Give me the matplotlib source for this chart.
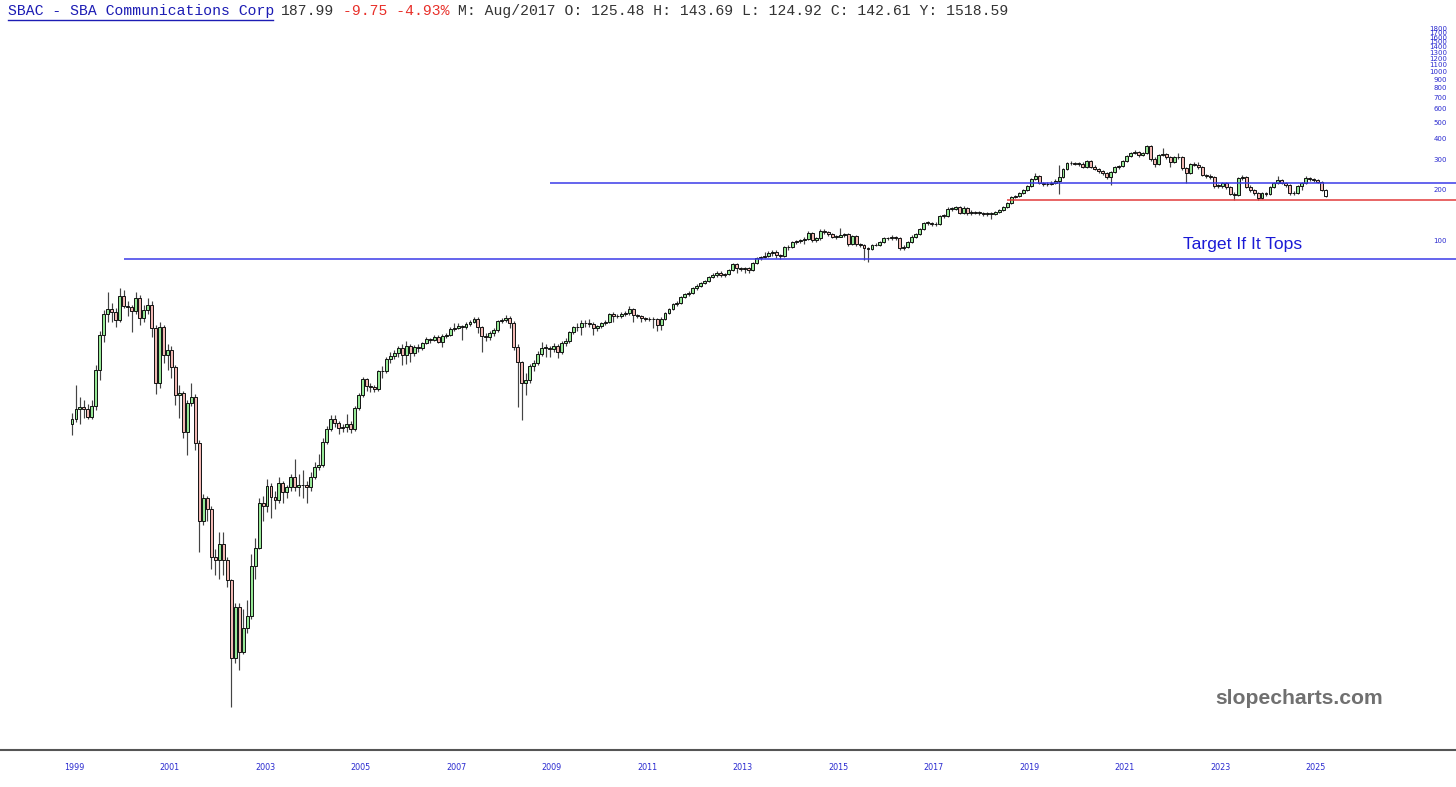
import numpy as np
import matplotlib
matplotlib.use("Agg")
import matplotlib.pyplot as plt
from matplotlib.transforms import blended_transform_factory
from matplotlib.lines import Line2D

# monthly bars, first bar is Jun 1999
first_year, first_month = 1999, 6
first_open = 8.3

closes = [
    8.8, 10.2, 10.4, 10.2, 9.1, 10.5, 17.2,                                  # 1999
    27.8, 37.0, 39.6, 38.0, 34.1, 47.2, 41.3, 40.7, 38.6, 46.0, 35.0, 39.1,  # 2000
    41.8, 30.6, 14.4, 31.0, 21.2, 22.6, 18.0, 12.3, 12.6, 7.4, 11.0, 11.9,   # 2001
    6.4, 2.2, 3.0, 2.6, 1.35, 1.30, 1.6, 1.30, 0.99, 0.34, 0.68, 0.37,       # 2002
    0.51, 0.60, 1.2, 1.53, 2.8, 2.7, 3.55, 3.05, 2.93, 3.7, 3.25, 3.5,       # 2003
    4.0, 3.5, 3.6, 3.6, 3.5, 4.0, 4.6, 4.7, 6.5, 7.7, 8.8, 8.4,              # 2004
    7.8, 7.9, 8.3, 7.7, 10.3, 12.3, 15.2, 13.8, 13.7, 13.3, 17.0, 17.1,      # 2005
    20.0, 20.9, 21.7, 23.3, 21.2, 23.9, 21.7, 23.6, 23.3, 24.9, 26.3, 25.9,  # 2006
    27.0, 25.2, 27.4, 27.8, 30.2, 30.6, 31.4, 31.0, 32.2, 33.1, 34.6, 31.0,  # 2007
    27.4, 27.0, 28.5, 29.7, 33.6, 34.1, 35.0, 32.7, 23.6, 19.2, 14.4, 15.0,  # 2008
    18.2, 19.0, 21.4, 23.3, 23.4, 22.9, 23.9, 22.0, 24.9, 25.6, 28.9, 31.0,  # 2009
    30.9, 32.7, 32.8, 32.2, 30.6, 31.4, 32.7, 33.1, 37.0, 36.0, 36.1, 37.0,  # 2010
    37.5, 39.6, 36.5, 36.0, 35.0, 34.6, 34.5, 34.6, 31.9, 34.6, 37.5, 39.6,  # 2011
    42.4, 43.0, 46.6, 48.6, 49.2, 52.7, 54.2, 56.4, 58.0, 61.3, 63.0, 64.7,  # 2012
    63.0, 63.8, 67.4, 73.1, 69.2, 68.3, 69.2, 67.4, 74.1, 79.3, 80.4, 81.5,  # 2013
    84.9, 86.1, 82.6, 81.5, 92.2, 92.5, 98.6, 100, 101, 103, 112, 101,       # 2014
    104, 115, 113, 110, 106, 106, 109, 110, 96, 107, 96, 94.7,               # 2015
    91, 89.7, 94.7, 95, 98.6, 104, 104, 106, 104, 91, 92.2, 98.6,            # 2016
    106, 110, 118, 128, 128, 126, 126, 141, 141, 155, 155, 159,              # 2017
    147, 157, 147, 149, 147, 147, 145, 145, 145, 149, 152, 159,              # 2018
    168, 182, 185, 192, 200, 212, 233, 242, 220, 217, 217, 220,              # 2019
    226, 239, 267, 289, 289, 286, 286, 274, 297, 274, 267, 259,              # 2020
    253, 239, 256, 274, 278, 297, 318, 332, 337, 323, 332, 365,              # 2021
    306, 286, 323, 327, 314, 293, 314, 314, 270, 253, 286, 282,              # 2022
    274, 246, 242, 239, 212, 212, 220, 209, 190, 187, 236, 239,              # 2023
    209, 200, 192, 180, 192, 190, 209, 220, 229, 220, 214, 192,              # 2024
    192, 212, 220, 236, 233, 229, 224, 200, 185,                             # 2025
]

highs = [
    9.6, 14.0, 12.0, 11.5, 10.8, 11.5, 18.5,
    29.5, 39, 50, 43, 40, 52.6, 51, 44, 42, 50, 48, 42,
    46, 44, 32, 33, 32, 24.5, 24, 18.5, 14, 13, 11.5, 14.5,
    12.5, 6.6, 3.2, 3.1, 2.7, 1.5, 1.9, 1.9, 1.35, 1.0, 0.72, 0.72,
    0.66, 0.75, 1.4, 1.75, 3.0, 3.1, 3.9, 3.7, 3.3, 4.0, 3.8, 3.6,
    4.2, 5.1, 4.2, 4.4, 3.8, 4.3, 4.9, 5.5, 6.8, 8.0, 9.4, 9.3,
    8.6, 8.3, 9.5, 8.6, 10.6, 12.6, 15.6, 15.5, 14.5, 14.0, 17.3, 18.3,
    20.5, 22, 22.5, 24, 24.5, 25.6, 24.5, 24.2, 24.5, 25.4, 27.2, 26.8,
    27.6, 27.6, 28, 28.5, 30.8, 32.5, 32.5, 32, 33, 34, 35.5, 35.3,
    31.5, 28.5, 29.3, 30.5, 34.2, 35, 36.3, 35.8, 33.5, 24.5, 19.5, 16.5,
    18.8, 19.8, 22.3, 25.4, 24.5, 24, 24.8, 24.5, 25.6, 26.5, 29.5, 31.6,
    32.5, 34.1, 34, 34.5, 33, 32, 33.3, 34, 37.6, 38, 37, 38,
    38.5, 41, 40.3, 37, 36.5, 35.5, 35.5, 35.5, 35.2, 35.3, 38, 40.3,
    43, 44, 47.3, 49.5, 50.5, 53.5, 55.5, 57.5, 59, 62, 64.5, 66,
    66, 65, 68.5, 74.5, 74, 70.5, 70.5, 70.5, 75.5, 80.5, 81.5, 86,
    87, 88.5, 88, 84, 93.5, 95, 100, 102, 103, 105, 114, 113,
    106, 117, 118, 115, 112, 109, 119, 112, 111, 109, 108, 97,
    96, 92, 96, 97, 100, 106, 106, 108, 107, 105, 95, 100,
    108, 112, 120, 130, 132, 130, 129, 143, 144, 158, 158, 162,
    162, 160, 159, 152, 151, 150, 149, 148, 148, 151, 154, 161,
    170, 184, 188, 194, 203, 215, 236, 252, 246, 224, 222, 225,
    232, 282, 272, 294, 297, 293, 293, 292, 303, 300, 280, 272,
    263, 256, 260, 278, 283, 302, 323, 338, 345, 340, 338, 372,
    368, 312, 328, 355, 332, 318, 320, 330, 318, 274, 290, 292,
    292, 278, 250, 248, 242, 216, 224, 224, 212, 195, 240, 245,
    242, 214, 204, 194, 196, 196, 213, 224, 242, 234, 224, 216,
    198, 215, 224, 244, 240, 236, 234, 228, 203,
]

lows = [
    7.1, 8.5, 8.3, 9.0, 8.8, 8.9, 10.0,
    15.0, 25.2, 33, 33, 31, 33, 40, 36, 29, 37, 32, 33,
    37, 27, 12.5, 13.5, 19, 17.2, 15.5, 10.7, 9.0, 6.8, 5.4, 10.5,
    5.8, 1.45, 2.1, 2.2, 1.15, 1.06, 1.0, 1.06, 0.9, 0.175, 0.32, 0.29,
    0.36, 0.48, 0.58, 1.0, 1.5, 2.2, 2.5, 2.3, 2.6, 2.8, 2.8, 3.0,
    3.3, 3.3, 3.1, 3.0, 2.8, 3.3, 3.9, 4.4, 4.6, 6.3, 7.5, 7.9,
    7.2, 7.4, 7.4, 7.3, 7.5, 10.0, 12.0, 13.0, 12.8, 12.8, 13.0, 15.5,
    16.5, 19, 20, 20.5, 18.5, 18.8, 19.3, 21, 22, 22.8, 24.5, 25,
    25.5, 24.8, 23.6, 26.8, 27.4, 29.5, 30, 25.9, 30, 31.5, 32.5, 28.5,
    22, 25.5, 26, 27.5, 29, 32.5, 33, 30.5, 22.5, 10.4, 8.7, 12.3,
    14.5, 17, 18.5, 21, 20.6, 20.6, 22, 20.3, 21.5, 24, 25, 28,
    29.5, 27.8, 31, 31, 27.8, 29.5, 30.5, 32, 32.5, 33.2, 35, 35,
    36, 36.5, 33.2, 35, 33.1, 33.5, 33.5, 30.5, 29.5, 29.7, 34, 37,
    39, 41.5, 42.5, 46, 47.5, 48.5, 51.5, 53.5, 55.5, 57, 60, 61.5,
    61, 61.5, 62.5, 66.5, 65, 66, 65, 64.5, 66.5, 73, 77.5, 79,
    80, 82, 79, 78, 80.5, 89, 91, 96, 97, 96, 101, 99,
    99, 102, 110, 107, 104, 103, 105, 106, 94, 95, 94, 92,
    77.2, 75.6, 88, 93, 94, 97, 101, 102, 101, 89, 88, 91,
    97, 104, 108, 116, 125, 123, 122, 124, 137, 139, 150, 153,
    144, 144, 143, 143, 144, 142, 141, 141, 135, 143, 146, 150,
    157, 166, 179, 182, 189, 198, 210, 230, 216, 213, 212, 214,
    216, 191, 235, 262, 282, 280, 278, 270, 270, 269, 262, 254,
    247, 234, 214, 252, 268, 274, 292, 312, 325, 316, 318, 328,
    298, 274, 282, 318, 306, 275, 288, 306, 264, 220, 250, 276,
    268, 242, 236, 232, 207, 205, 207, 204, 186, 176, 184, 230,
    205, 196, 186, 175, 177, 185, 187, 206, 216, 216, 209, 188,
    187, 190, 200, 216, 226, 222, 219, 197, 183,
]

year_labels = list(range(1999, 2026, 2))
price_labels = [100, 200, 300, 400, 500, 600, 700, 800, 900, 1000,
                1100, 1200, 1300, 1400, 1500, 1600, 1700, 1800]

# drawn levels: price and the month the line starts
upper_level, upper_start = 221.3, (2009, 6)
red_level, red_start = 176.0, (2019, 1)
target_level, target_start = 77.9, (2000, 7)
target_text = "Target If It Tops"

header_name = "SBAC - SBA Communications Corp"
header_last = "187.99"
header_change = "-9.75 -4.93%"
header_rest = "M: Aug/2017 O: 125.48 H: 143.69 L: 124.92 C: 142.61 Y: 1518.59"


def month_index(year, month):
    return (year - first_year) * 12 + (month - first_month)


W, H = 1456, 787
fig = plt.figure(figsize=(W / 100, H / 100), dpi=100)
fig.patch.set_facecolor("white")
ax = fig.add_axes([0, 37 / H, 1, 750 / H])
ax.set_yscale("log")
ax.set_ylim(0.0973, 2667)
ax.set_xlim(-18.09, 347.74)
ax.tick_params(which="both", left=False, bottom=False, labelleft=False, labelbottom=False)
for s in ["top", "left", "right"]:
    ax.spines[s].set_visible(False)
ax.spines["bottom"].set_color("#555555")
ax.spines["bottom"].set_linewidth(1.5)

# candles
c = np.array(closes)
hi = np.array(highs)
lo = np.array(lows)
o = np.r_[first_open, c[:-1]]
x = np.arange(len(c))
body_lo = np.minimum(o, c)
body_hi = np.maximum(o, c)
hi = np.maximum(hi, body_hi)
lo = np.minimum(lo, body_lo)
face = np.where(c >= o, "#96e896", "#f2b8b4").astype(object)
face[-1] = "white"
height = np.maximum(body_hi - body_lo, body_lo * 0.006)

ax.vlines(x, lo, hi, colors="#444444", linewidth=0.85, zorder=1)
ax.bar(x, height, bottom=body_lo, width=0.74, color=list(face),
       edgecolor="#111111", linewidth=0.7, zorder=2)

# levels
xmax = ax.get_xlim()[1]
ax.hlines(upper_level, month_index(*upper_start), xmax, color="#3a3ae8", lw=1.1, zorder=3)
ax.hlines(red_level, month_index(*red_start), xmax, color="#e23a3a", lw=1.1, zorder=3)
ax.hlines(target_level, month_index(*target_start), xmax, color="#3a3ae8", lw=1.1, zorder=3)
ax.text(294.2, 94.7, target_text, ha="center", va="center", fontsize=12.6,
        family="Liberation Sans", color="#1a1ad6")

# price labels on the right
ty = blended_transform_factory(ax.transAxes, ax.transData)
for p in price_labels:
    ax.text(1447 / W, p, str(p), transform=ty, ha="right", va="center",
            fontsize=5, color="#2a2ad0")

# year labels under the axis
tx = blended_transform_factory(ax.transData, fig.transFigure)
for yr in year_labels:
    ax.text(month_index(yr, 7) - 0.5, 1 - 768 / H, str(yr), transform=tx,
            ha="center", va="center", fontsize=5.8, color="#2a2ad0")

# header line
cw = 8.82
hy = 1 - 11 / H
parts = [(header_name, 0, "#1c1cb4"), (header_last, 31, "#333333"),
         (header_change, 38, "#e8302a"), (header_rest, 51, "#333333")]
for txt, pos, col in parts:
    fig.text((8 + cw * pos) / W, hy, txt, ha="left", va="center",
             family="Liberation Mono", fontsize=10.6, color=col)
fig.add_artist(Line2D([8 / W, (8 + cw * len(header_name)) / W], [1 - 19.5 / H] * 2,
                      color="#1c1cb4", lw=1, transform=fig.transFigure))

fig.text(1299 / W, 1 - 698 / H, "slopecharts.com", ha="center", va="center",
         fontsize=15.2, fontweight="bold", family="Liberation Sans", color="#707070")

fig.savefig("out.png", dpi=100, facecolor="white")
